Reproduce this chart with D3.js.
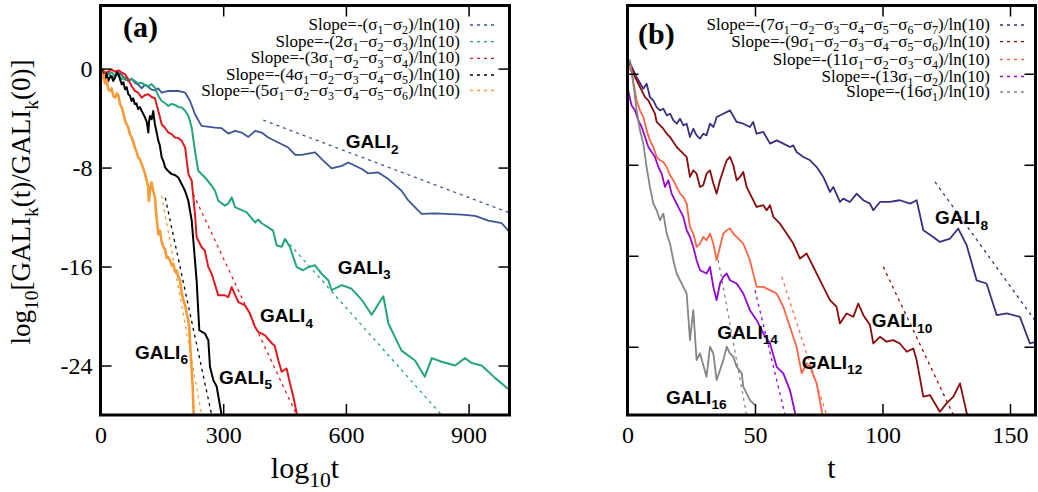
<!DOCTYPE html>
<html><head><meta charset="utf-8">
<script src="https://cdn.jsdelivr.net/npm/d3@7"></script>
<style>
html,body{margin:0;padding:0;background:#fff;}
svg{display:block;}
</style></head>
<body>
<svg id="chart" width="1038" height="492"></svg>
<script>
// ---------------- DATA ----------------
// Panel (a): x = log10 t axis (0..1000), y = log10[GALI_k(t)/GALI_k(0)]
const xTicksA = [0, 300, 600, 900];
const yTicksA = [0, -8, -16, -24];
const xTicksB = [0, 50, 100, 150];
const yTicksB = [0, -10, -20, -30];

const gali2 = [[0,0],[3,-0.07],[11,-0.4],[19,-0.33],[27,-0.7],[35.5,-0.6],[44,-0.35],[52,-0.52],[60,-0.9],[68,-1.0],[76,-0.8],[84,-1.14],[92,-1.3],[100.7,-1.6],[109,-1.3],[117,-1.49],[125,-1.7],[133,-1.76],[141,-1.6],[149.6,-1.95],[166,-1.81],[190,-1.81],[207,-1.95],[219,-2.62],[231,-3.69],[247,-4.63],[280,-4.77],[296,-4.82],[312.6,-5.25],[329,-5.03],[345,-5.17],[361.5,-5.52],[378,-5.03],[394,-5.17],[410,-5.57],[443,-6.11],[459,-6.38],[476,-6.97],[492,-6.97],[524.5,-6.78],[541,-7.32],[565,-8.07],[590,-7.86],[606,-7.59],[639,-8.12],[655,-8.47],[679,-8.39],[704,-8.93],[736,-9.87],[753,-10.68],[785,-11.75],[818,-11.7],[883,-11.8],[916,-11.9],[948,-12.29],[981,-12.5],[997,-13.09],[1000,-13.2]];

const gali3 = [[0,0],[3,-0.07],[11,-0.3],[19,-0.42],[27,-0.3],[35.5,-0.6],[44,-0.5],[52,-0.87],[60,-0.7],[68,-1.0],[76,-0.85],[84,-1.0],[92,-1.2],[100.7,-1.14],[109,-1.35],[117,-1.41],[125,-1.25],[133,-1.54],[141.4,-2.21],[149.6,-2.62],[158,-2.8],[166,-3.02],[174,-2.85],[182,-2.94],[190,-3.1],[198.5,-3.15],[207,-3.4],[215,-3.83],[223,-4.77],[231,-6.65],[239,-8.26],[255.5,-8.8],[272,-9.47],[280,-9.87],[288,-10.68],[304.4,-11.08],[312.5,-10.9],[320.8,-10.41],[329,-11.2],[357.5,-11.62],[377.8,-12.43],[386,-12.2],[394,-12.5],[410,-12.83],[422,-13.1],[430.8,-14.3],[443,-14.4],[451,-13.77],[463,-14.4],[479.7,-16.05],[495.8,-16.3],[508,-16.05],[524.5,-15.9],[541,-16.6],[557,-17.1],[565,-17.9],[590,-17.5],[614,-17.8],[639,-18.7],[663,-19.9],[691.5,-18.4],[704,-20.6],[720,-21.7],[736,-22.8],[769,-23.6],[793,-24.9],[810,-23.4],[834,-23.7],[867,-24.0],[891,-23.4],[907.5,-23.8],[932,-24.0],[964.5,-25.0],[997,-25.9],[1000,-26.0]];

const gali4 = [[0,0],[3,-0.07],[11,-0.33],[19,-0.25],[27,-0.07],[35.5,-0.25],[44,-0.15],[52,-0.33],[60,-0.47],[68,-0.87],[76,-1.41],[84,-1.81],[92,-1.95],[100.7,-2.35],[109,-2.13],[117,-2.08],[125,-2.3],[133,-2.4],[141.4,-3.42],[149.6,-4.5],[158,-4.8],[166,-5.17],[174,-5.3],[182,-5.57],[190,-5.6],[198.5,-5.84],[207,-6.38],[215,-8.53],[223,-9.07],[231,-11.75],[235,-13.63],[247.4,-14.44],[255,-14.7],[263.6,-16.05],[272,-16.6],[288,-18.33],[304,-18.33],[312.5,-18.47],[320.8,-17.66],[337,-18.87],[353.3,-19.14],[365.5,-19.8],[377.8,-20.89],[386,-21.3],[402,-21.55],[418.6,-22.2],[426,-22.4],[434.7,-23.57],[443,-24.5],[455,-24.24],[463.3,-25.45],[471.4,-26.5],[483.6,-28.5]];

const gali5 = [[0,0],[3,-0.07],[7,-0.6],[11,-0.87],[15,-0.4],[19,-1.0],[23,-0.7],[27,-0.6],[31,-1.0],[35.5,-0.74],[40,-0.3],[44,-0.47],[48,-0.9],[52,-1.27],[56,-1.1],[60,-1.68],[64,-1.5],[68,-2.08],[72,-2.2],[76,-2.62],[80,-2.4],[84,-2.89],[88,-2.8],[92,-3.29],[96,-3.1],[100.7,-3.42],[105,-3.7],[109,-3.96],[113,-4.3],[117,-5.17],[119,-4.2],[121,-3.83],[125,-4.1],[129,-3.42],[131,-4.0],[133,-4.5],[137,-5.1],[141.4,-5.84],[145,-6.2],[149.6,-7.18],[154,-7.5],[158,-7.99],[166,-8.3],[174,-8.53],[182,-8.6],[190,-8.8],[194.4,-9.07],[206.6,-9.87],[214.7,-10.68],[223,-12.29],[227,-13.9],[235,-17.12],[241.6,-21.15],[255.5,-21.42],[263.6,-21.96],[267.7,-24.1],[275.8,-25.18],[284,-25.7],[298.8,-28.5]];

const gali6 = [[0,0.2],[3,-0.74],[7,-0.5],[11,-1.2],[15,-0.9],[19,-1.68],[23,-1.8],[27,-1.6],[31,-2.2],[35.5,-2.35],[40,-2.0],[44,-2.2],[48,-2.9],[52,-3.15],[56,-3.6],[60,-4.2],[64,-4.5],[68,-4.77],[72,-5.3],[76,-5.57],[80,-5.9],[84,-6.38],[88,-6.7],[92,-7.18],[96,-7.3],[100.7,-7.72],[105,-8.1],[109,-8.53],[113,-9.07],[117,-9.6],[118,-10.7],[121,-9.9],[125,-9.2],[129,-9.9],[133,-10.4],[137,-12.0],[141.4,-13.4],[145.5,-13.1],[149,-13.9],[153.6,-14.44],[158,-14.6],[162,-15.3],[165.8,-15.25],[170,-15.5],[174,-15.9],[178,-15.78],[182,-16.4],[186.3,-16.32],[190,-16.8],[194.4,-17.12],[198,-18.0],[202.4,-18.7],[206,-19.0],[210.8,-19.8],[214,-20.3],[217,-20.9],[220.5,-23.03],[225.4,-25.72],[228.6,-28.5]];

// fitted slope lines (a)
const slopeA2 = [[398,-4.17],[1000,-11.66]];
const slopeA3 = [[451,-13.77],[834,-28]];
const slopeA4 = [[226.9,-10.14],[479.7,-28]];
const slopeA5 = [[158.4,-10.44],[271.8,-28]];
const slopeA6 = [[149.6,-10.27],[247.4,-28]];

// Panel (b): x = t (0..160)
const gali8 = [[0,1.4],[1.0,1.1],[3.6,-0.37],[6.2,-1.65],[7.5,-1.1],[8.8,-2.56],[10.1,-2.93],[11.4,-3.66],[12.7,-4.02],[14.05,-3.84],[15.4,-4.57],[16.7,-4.39],[18,-5.12],[19.3,-5.49],[20.6,-4.94],[21.9,-5.67],[23.2,-5.49],[24.5,-6.95],[25.8,-6.04],[27.1,-6.77],[28.4,-7.13],[29.7,-6.59],[31,-6.77],[32.3,-5.49],[33.7,-5.85],[35,-4.76],[37.6,-4.39],[40.2,-4.02],[42.8,-5.3],[45.4,-5.49],[48,-5.85],[49.3,-5.3],[50.6,-6.59],[53.3,-6.4],[55.9,-7.68],[58.5,-7.32],[61.1,-7.68],[63.7,-8.05],[65,-7.87],[66.3,-8.6],[69,-9.15],[71.6,-9.51],[74.2,-10.25],[76.8,-11.34],[79.4,-12.99],[80.7,-12.44],[83.3,-14.09],[84.6,-13.72],[87.2,-14.09],[89.9,-13.17],[92.5,-13.9],[95.1,-14.27],[96.4,-15.0],[99,-14.09],[102.9,-14.09],[106.8,-13.9],[110.8,-14.27],[113.4,-13.9],[116,-17.2],[119.9,-17.93],[122.5,-18.48],[126.5,-18.11],[129.7,-17.01],[133,-18.84],[136.9,-22.7],[140.8,-23.05],[144.8,-26.53],[148.7,-26.34],[153.9,-26.71],[157.8,-29.64],[160.4,-29.45]];

const gali10 = [[0,1.4],[1.6,0.73],[2.94,-0.37],[4.25,-1.1],[5.56,-1.83],[6.86,-2.56],[8.17,-2.93],[9.48,-3.66],[10.78,-4.39],[11.44,-5.3],[12.75,-5.67],[14.05,-6.04],[15.36,-6.59],[16.67,-6.95],[17.97,-7.5],[19.28,-8.05],[20.59,-8.42],[21.9,-8.78],[23.2,-9.15],[24.5,-11.34],[25.8,-10.61],[27.1,-10.98],[28.43,-12.44],[29.7,-12.26],[31.0,-10.98],[32.35,-10.61],[33.66,-12.07],[34.96,-13.17],[36.27,-11.71],[37.58,-10.61],[38.9,-9.51],[40.2,-9.15],[41.5,-10.06],[42.8,-11.71],[44.1,-11.34],[45.4,-10.79],[46.7,-12.44],[48.0,-13.17],[50.65,-14.64],[53.26,-14.45],[54.57,-15.0],[55.9,-14.45],[57.2,-15.73],[59.8,-16.47],[62.4,-17.56],[65.0,-18.66],[67.64,-20.31],[70.25,-19.76],[71.56,-20.49],[74.17,-21.95],[76.79,-23.42],[79.4,-24.88],[82.0,-25.61],[83.3,-27.44],[85.9,-26.35],[88.55,-26.71],[90.5,-25.25],[92.5,-26.53],[95.1,-27.62],[96.4,-29.64],[99.0,-28.91],[101.6,-29.45],[104.2,-29.27],[106.8,-29.64],[109.5,-30.55],[112.1,-30.19],[113.4,-31.47],[116.0,-35.49],[118.6,-35.31],[122.5,-37.14],[125.1,-36.22],[127.8,-35.49],[130.4,-34.03],[133.6,-38]];

const gali12 = [[0,1.0],[1.6,0.18],[3.6,-2.93],[4.9,-4.02],[6.2,-4.76],[7.5,-6.22],[8.8,-7.32],[10.13,-8.05],[11.44,-9.15],[12.75,-9.51],[14.05,-9.7],[15.36,-10.25],[16.67,-11.16],[17.97,-11.71],[19.28,-12.44],[20.59,-13.17],[21.9,-13.54],[23.2,-14.27],[24.5,-16.83],[25.8,-17.56],[27.1,-19.03],[28.43,-18.66],[29.7,-17.93],[31.0,-18.3],[32.35,-17.56],[33.66,-18.66],[34.96,-20.49],[36.27,-19.03],[37.58,-17.56],[38.9,-17.2],[40.2,-17.01],[41.5,-17.56],[42.8,-17.93],[45.4,-18.66],[48.0,-20.49],[50.65,-23.42],[53.26,-23.42],[55.9,-23.78],[58.5,-24.15],[61.1,-25.61],[63.7,-27.81],[66.3,-30.0],[68.3,-32.93],[70.25,-31.83],[71.56,-32.2],[74.17,-34.03],[76.8,-38]];

const gali14 = [[0,-1.5],[1.6,-3.48],[2.94,-4.02],[4.25,-5.12],[5.56,-5.85],[6.86,-6.95],[8.17,-8.05],[9.48,-8.6],[10.78,-9.15],[12.1,-10.25],[13.4,-10.98],[14.7,-12.44],[16.0,-11.71],[17.3,-13.17],[18.6,-13.9],[19.9,-14.64],[21.9,-15.73],[23.2,-17.2],[24.5,-17.93],[25.8,-19.03],[27.1,-20.49],[28.43,-21.59],[31.0,-21.95],[32.35,-21.22],[33.66,-23.42],[34.96,-24.88],[36.27,-23.05],[37.58,-22.32],[38.9,-21.95],[40.2,-22.69],[42.8,-23.05],[45.4,-24.15],[48.0,-25.98],[50.65,-27.08],[53.26,-28.54],[55.9,-29.64],[58.5,-32.2],[61.1,-32.93],[63.7,-34.76],[66.3,-38]];

const gali16 = [[0,1.6],[1.0,1.46],[2.3,-1.1],[3.6,-4.02],[4.9,-6.22],[6.2,-7.68],[7.5,-10.25],[8.8,-12.44],[10.13,-14.27],[11.44,-15.0],[12.75,-16.1],[14.05,-15.37],[15.36,-17.56],[16.67,-18.66],[17.97,-20.49],[19.28,-21.95],[20.59,-22.69],[21.9,-23.42],[23.2,-24.15],[24.5,-29.27],[25.8,-25.98],[27.1,-31.47],[28.43,-30.74],[31.0,-33.3],[32.35,-30.0],[33.66,-30.74],[34.96,-33.66],[37.58,-31.47],[38.9,-30.0],[40.2,-30.74],[41.5,-31.1],[42.8,-32.2],[44.8,-32.93],[45.4,-34.39],[46.7,-35.13],[48.0,-35.86],[50.0,-36.4]];

// fitted slope lines (b)
const slopeB8 = [[120.6,-11.89],[160,-27.2]];
const slopeB10 = [[100.3,-21.22],[127.8,-37.5]];
const slopeB12 = [[60.5,-22.32],[78.1,-37.5]];
const slopeB14 = [[50,-23.78],[61.8,-37.5]];
const slopeB16 = [[35.6,-20.49],[46.7,-37.5]];

const legendA = ["Slope=-(σ_1−σ_2)/ln(10)","Slope=-(2σ_1−σ_2−σ_3)/ln(10)","Slope=-(3σ_1−σ_2−σ_3−σ_4)/ln(10)","Slope=-(4σ_1−σ_2−σ_3−σ_4−σ_5)/ln(10)","Slope=-(5σ_1−σ_2−σ_3−σ_4−σ_5−σ_6)/ln(10)"];
const legendB = ["Slope=-(7σ_1−σ_2−σ_3−σ_4−σ_5−σ_6−σ_7)/ln(10)","Slope=-(9σ_1−σ_2−σ_3−σ_4−σ_5−σ_6)/ln(10)","Slope=-(11σ_1−σ_2−σ_3−σ_4)/ln(10)","Slope=-(13σ_1−σ_2)/ln(10)","Slope=-(16σ_1)/ln(10)"];
const labelsA = ["GALI_{2}","GALI_{3}","GALI_{4}","GALI_{5}","GALI_{6}"];
const labelsB = ["GALI_{8}","GALI_{10}","GALI_{12}","GALI_{14}","GALI_{16}"];
const colorsA = ["#3b5596","#22a679","#e3191e","#000000","#f89a36"];
const colorsB = ["#3e2d80","#8b0a0a","#ff6445","#9208d6","#858585"];

// ---------------- DRAW ----------------
const svg = d3.select("#chart");
const SERIF = "'Liberation Serif','Times New Roman',serif";
const SANS = "'Liberation Sans',Arial,sans-serif";

function rich(textSel, str, fs, subScale=0.7, shiftEm=0.3) {
  const re = /_\{([^}]*)\}|_([0-9a-zA-Z])/g;
  let last = 0, m, down = false;
  const shift = fs * shiftEm;
  const add = (s, sub) => {
    const t = textSel.append("tspan").text(s).attr("font-size", sub ? fs*subScale : fs);
    if (sub && !down) { t.attr("dy", shift); down = true; }
    else if (!sub && down) { t.attr("dy", -shift); down = false; }
  };
  while ((m = re.exec(str))) {
    if (m.index > last) add(str.slice(last, m.index), false);
    add(m[1] || m[2], true);
    last = re.lastIndex;
  }
  if (last < str.length) add(str.slice(last), false);
}

const fmtInt = d => String(d);

function panel(cfg) {
  const {x, y, id} = cfg;
  const [x0, x1] = x.range(); const [y0, y1] = y.range();
  const g = svg.append("g");
  g.append("clipPath").attr("id", id).append("rect")
    .attr("x", x0).attr("y", y1).attr("width", x1 - x0).attr("height", y0 - y1);
  const plot = g.append("g").attr("clip-path", `url(#${id})`);
  const line = d3.line().x(d => x(d[0])).y(d => y(d[1]));

  // dashed slopes
  cfg.slopes.forEach((s, i) => {
    plot.append("path").attr("d", line(s)).attr("fill", "none")
      .attr("stroke", cfg.colors[i]).attr("stroke-width", 1.3).attr("stroke-dasharray", "3,4");
  });
  // curves
  cfg.order.forEach(i => {
    plot.append("path").attr("d", line(cfg.series[i])).attr("fill", "none")
      .attr("stroke", cfg.colors[i]).attr("stroke-width", cfg.widths[i])
      .attr("stroke-linejoin", "round");
  });

  // axes with inward ticks
  const tickStyle = a => {
    a.select(".domain").remove();
    a.selectAll(".tick line").attr("stroke", "#000").attr("stroke-width", 1.5);
    a.selectAll(".tick text").attr("font-family", SERIF).attr("font-size", 24).attr("fill", "#000");
  };
  g.append("g").attr("transform", `translate(0,${y0})`)
    .call(d3.axisBottom(x).tickValues(cfg.xTicks).tickSize(-11).tickPadding(11).tickFormat(fmtInt))
    .call(tickStyle);
  g.append("g").attr("transform", `translate(0,${y1})`)
    .call(d3.axisTop(x).tickValues(cfg.xTicks).tickSize(-11).tickFormat(""))
    .call(tickStyle);
  g.append("g").attr("transform", `translate(${x0},0)`)
    .call(d3.axisLeft(y).tickValues(cfg.yTicks).tickSize(-11).tickPadding(8)
      .tickFormat(cfg.yLabels ? fmtInt : ""))
    .call(tickStyle);
  g.append("g").attr("transform", `translate(${x1},0)`)
    .call(d3.axisRight(y).tickValues(cfg.yTicks).tickSize(-11).tickFormat(""))
    .call(tickStyle);

  // frame
  g.append("rect").attr("x", x0).attr("y", y1).attr("width", x1 - x0).attr("height", y0 - y1)
    .attr("fill", "none").attr("stroke", "#000").attr("stroke-width", 3);

  // panel tag
  g.append("text").attr("x", cfg.tag[1]).attr("y", cfg.tag[2]).text(cfg.tag[0])
    .attr("font-family", SERIF).attr("font-weight", "bold").attr("font-size", 30);

  // legend
  cfg.legend.forEach((s, i) => {
    const ly = cfg.legendY[i];
    const t = g.append("text").attr("x", cfg.legendX).attr("y", ly + 5)
      .attr("text-anchor", "end").attr("font-family", SERIF).attr("fill", "#000");
    rich(t, s, 17, 0.7, 0.26);
    g.append("line").attr("x1", cfg.legendX + 10).attr("x2", cfg.legendX + 34)
      .attr("y1", ly).attr("y2", ly).attr("stroke", cfg.colors[i])
      .attr("stroke-width", 1.3).attr("stroke-dasharray", "3,4");
  });

  // curve labels
  cfg.labels.forEach((s, i) => {
    const p = cfg.labelPos[i];
    const t = g.append("text").attr("x", p[0]).attr("y", p[1])
      .attr("font-family", SANS).attr("font-weight", "bold").attr("fill", "#000");
    rich(t, s, 19, 0.72, 0.3);
  });

  // x title
  const xt = g.append("text").attr("x", (x0 + x1) / 2).attr("y", 478)
    .attr("text-anchor", "middle").attr("font-family", SERIF).attr("fill", "#000");
  rich(xt, cfg.xTitle, 30, 0.72, 0.3);
  return g;
}

const xA = d3.scaleLinear().domain([0, 1000]).range([100.5, 509.5]);
const yA = d3.scaleLinear().domain([-28, 5.1]).range([415, 5.5]);
const xB = d3.scaleLinear().domain([0, 160]).range([627.5, 1035.5]);
const yB = d3.scaleLinear().domain([-37.5, 7.5]).range([415, 5.5]);

panel({
  id: "clipA", x: xA, y: yA, xTicks: xTicksA, yTicks: yTicksA, yLabels: true,
  series: [gali2, gali3, gali4, gali5, gali6], order: [0, 1, 2, 3, 4],
  widths: [1.8, 2, 2, 2, 2.6],
  slopes: [slopeA2, slopeA3, slopeA4, slopeA5, slopeA6], colors: colorsA,
  tag: ["(a)", 123, 37],
  legend: legendA, legendX: 460, legendY: [25, 41.7, 58.3, 75, 90.5],
  labels: labelsA, labelPos: [[345.7, 148], [337.7, 273.5], [260, 322], [219, 383.5], [135, 358.5]],
  xTitle: "log_{10}t"
});

panel({
  id: "clipB", x: xB, y: yB, xTicks: xTicksB, yTicks: yTicksB, yLabels: false,
  series: [gali8, gali10, gali12, gali14, gali16], order: [0, 1, 2, 3, 4],
  widths: [1.8, 1.8, 1.8, 1.8, 1.8],
  slopes: [slopeB8, slopeB10, slopeB12, slopeB14, slopeB16], colors: colorsB,
  tag: ["(b)", 638, 44],
  legend: legendB, legendX: 990, legendY: [25, 41.7, 59.5, 76.5, 92],
  labels: labelsB, labelPos: [[935, 224], [871.7, 327], [801.7, 368.5], [717.3, 338.5], [666, 403.5]],
  xTitle: "t"
});

// y title (a)
const yt = svg.append("text").attr("transform", "translate(30,202) rotate(-90)")
  .attr("text-anchor", "middle").attr("font-family", SERIF).attr("fill", "#000");
rich(yt, "log_{10}[GALI_k(t)/GALI_k(0)]", 27, 0.72, 0.3);
</script>
</body></html>
